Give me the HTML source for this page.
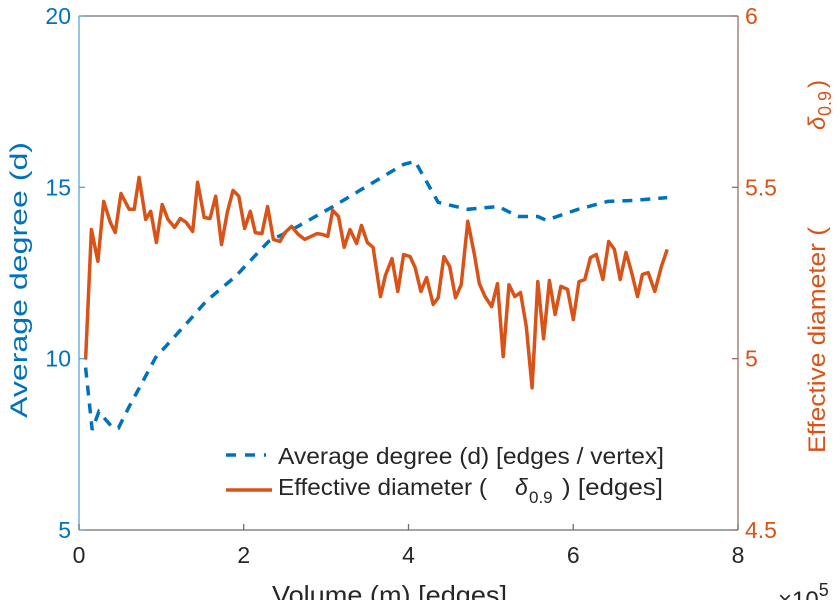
<!DOCTYPE html>
<html><head><meta charset="utf-8"><style>
html,body{margin:0;padding:0;background:#fff;}
svg{display:block;font-family:"Liberation Sans",Arial,sans-serif;}
</style></head><body>
<svg id="chart" width="838" height="600" viewBox="0 0 838 600" xmlns="http://www.w3.org/2000/svg">
<g id="series"></g>
<g id="axes"></g>
<g>
  <line x1="226" y1="455" x2="266" y2="455" stroke="#0072BD" stroke-width="3.5" stroke-dasharray="10,9"/>
  <text x="278" y="464" font-size="23" textLength="386" lengthAdjust="spacingAndGlyphs" fill="#262626">Average degree (d) [edges / vertex]</text>
  <line x1="226" y1="490" x2="272" y2="490" stroke="#D95319" stroke-width="3.5"/>
  <text x="278" y="495" font-size="23" textLength="209" lengthAdjust="spacingAndGlyphs" fill="#262626">Effective diameter (</text>
  <text x="515" y="495" font-size="23" font-style="italic" fill="#262626">δ</text>
  <text x="529" y="503" font-size="17" fill="#262626">0.9</text>
  <text x="562" y="495" font-size="23" textLength="101" lengthAdjust="spacingAndGlyphs" fill="#262626">) [edges]</text>
</g>
<text x="272" y="604" font-size="26" textLength="235" lengthAdjust="spacingAndGlyphs" fill="#262626">Volume (m) [edges]</text>
<text x="778" y="608" font-size="24" fill="#262626">×10<tspan font-size="18" dy="-12">5</tspan></text>
<text transform="translate(27,418) rotate(-90)" font-size="24" textLength="276" lengthAdjust="spacingAndGlyphs" fill="#0072BD">Average degree (d)</text>
<g fill="#D95319" font-size="24">
  <text transform="translate(825,453) rotate(-90)" textLength="226" lengthAdjust="spacingAndGlyphs">Effective diameter (</text>
  <text transform="translate(825,130) rotate(-90)" font-style="italic">δ</text>
  <text transform="translate(831,116) rotate(-90)" font-size="18">0.9</text>
  <text transform="translate(825,88) rotate(-90)">)</text>
</g>
<script>
var xTicks=[0,2,4,6,8];
var leftTicks=[5,10,15,20];
var rightTicks=[4.5,5,5.5,6];
var rightTickLabels=["4.5","5","5.5","6"];
var degX=[0.08,0.16,0.24,0.40,0.48,0.61,0.93,1.37,1.54,1.90,2.30,2.59,3.07,3.43,3.94,4.08,4.36,4.72,5.09,5.33,5.57,5.67,6.06,6.42,6.74,7.14];
var degY=[9.74,7.92,8.45,8.01,7.98,8.60,10.03,11.20,11.67,12.40,13.42,13.77,14.42,14.94,15.67,15.76,14.56,14.36,14.44,14.15,14.15,14.04,14.36,14.59,14.62,14.70];
var diaX=[0.08,0.15,0.23,0.30,0.38,0.44,0.51,0.61,0.67,0.73,0.81,0.87,0.94,1.01,1.08,1.16,1.23,1.30,1.38,1.44,1.52,1.59,1.66,1.73,1.80,1.87,1.94,2.01,2.08,2.14,2.22,2.29,2.36,2.44,2.50,2.58,2.66,2.74,2.82,2.89,2.95,3.02,3.08,3.15,3.22,3.29,3.37,3.43,3.50,3.57,3.66,3.72,3.80,3.87,3.94,
4.02,4.08,4.15,4.22,4.30,4.36,4.43,4.50,4.57,4.64,4.72,4.80,4.86,4.93,5.01,5.08,5.15,5.22,5.29,5.36,5.43,5.50,5.57,5.64,5.71,5.78,5.85,5.93,6.00,6.07,6.14,6.21,6.28,6.36,6.43,6.50,6.57,6.64,6.71,6.78,6.84,6.91,6.99,7.07,7.14];
var diaY=[4.997,5.377,5.284,5.459,5.398,5.368,5.482,5.436,5.436,5.529,5.406,5.430,5.339,5.450,5.406,5.383,5.409,5.398,5.371,5.515,5.412,5.409,5.474,5.333,5.427,5.491,5.474,5.380,5.430,5.368,5.365,5.444,5.348,5.342,5.368,5.386,5.363,5.348,5.357,5.365,5.363,5.357,5.433,5.415,5.325,5.377,5.336,5.389,5.339,5.325,5.181,5.243,5.292,5.196,5.304,
5.298,5.266,5.196,5.237,5.158,5.178,5.298,5.269,5.178,5.216,5.401,5.304,5.219,5.181,5.152,5.219,5.006,5.216,5.181,5.193,5.094,4.915,5.225,5.058,5.228,5.129,5.211,5.202,5.114,5.225,5.231,5.295,5.304,5.231,5.342,5.319,5.231,5.310,5.251,5.181,5.246,5.251,5.196,5.269,5.319];

var L=79,R=738,T=16,B=530;
function sx(v){return L+(v-0)/(8-0)*(R-L);}
function syL(v){return B-(v-5)/(20-5)*(B-T);}
function syR(v){return B-(v-4.5)/(6-4.5)*(B-T);}
var NS="http://www.w3.org/2000/svg";
function mk(tag,attrs,parent,txt){var e=document.createElementNS(NS,tag);for(var k in attrs)e.setAttribute(k,attrs[k]);if(txt!==undefined)e.textContent=txt;parent.appendChild(e);return e;}
var axes=document.getElementById('axes'),series=document.getElementById('series');

var p1=degX.map(function(x,i){return sx(x).toFixed(1)+','+syL(degY[i]).toFixed(1);}).join(' ');
var l1=mk('polyline',{points:p1,fill:'none',stroke:'#0072BD','stroke-width':3.5,'stroke-dasharray':'10,8'},series);


var p2=diaX.map(function(x,i){return sx(x).toFixed(1)+','+syR(diaY[i]).toFixed(1);}).join(' ');
var l2=mk('polyline',{points:p2,fill:'none',stroke:'#D95319','stroke-width':3.5,'stroke-linejoin':'round'},series);



var bx=mk('line',{x1:L,y1:B,x2:R,y2:B,stroke:'#6e6e6e','stroke-width':1.3},axes);


var tx=mk('line',{x1:L,y1:T,x2:R,y2:T,stroke:'#6e6e6e','stroke-width':1.3},axes);


var la=mk('line',{x1:L,y1:T,x2:L,y2:B,stroke:'#5aa6dc','stroke-width':1.3},axes);


var ra=mk('line',{x1:R,y1:T,x2:R,y2:B,stroke:'#9a6e62','stroke-width':1.3},axes);



xTicks.forEach(function(v){
  mk('line',{x1:sx(v),y1:B,x2:sx(v),y2:B-6,stroke:'#6e6e6e','stroke-width':1.3},axes);
  var t=mk('text',{x:sx(v),y:B+33,'font-size':23,'text-anchor':'middle',fill:'#262626'},axes,String(v));
  
  
});
leftTicks.forEach(function(v){
  mk('line',{x1:L,y1:syL(v),x2:L+6,y2:syL(v),stroke:'#5aa6dc','stroke-width':1.3},axes);
  var t=mk('text',{x:L-8,y:syL(v)+8,'font-size':23,'text-anchor':'end',fill:'#0072BD'},axes,String(v));
  
  
});
rightTicks.forEach(function(v,i){
  mk('line',{x1:R,y1:syR(v),x2:R-6,y2:syR(v),stroke:'#9a6e62','stroke-width':1.3},axes);
  var t=mk('text',{x:R+7,y:syR(v)+8,'font-size':23,'text-anchor':'start',fill:'#D95319'},axes,rightTickLabels[i]);
  
  
});
</script>
</svg>
</body></html>
